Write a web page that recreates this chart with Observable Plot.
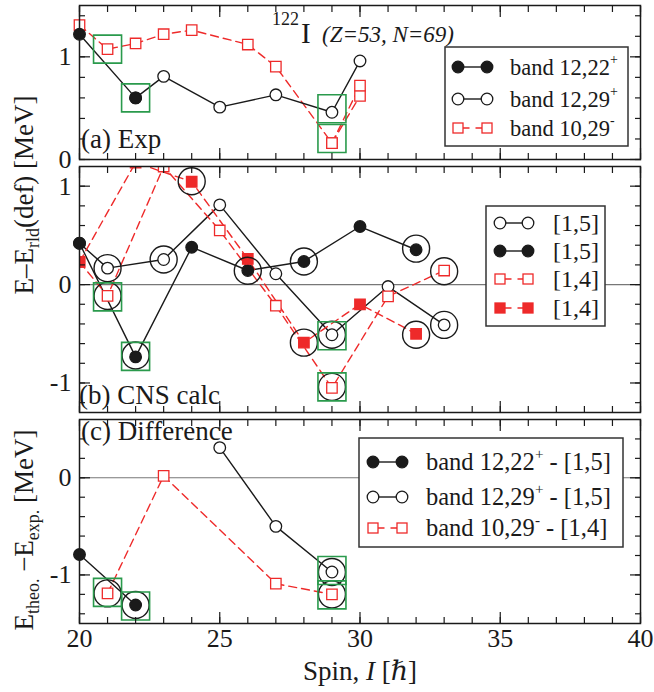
<!DOCTYPE html>
<html>
<head>
<meta charset="utf-8">
<script src="https://cdn.jsdelivr.net/npm/d3@7"></script>
<script src="https://cdn.jsdelivr.net/npm/@observablehq/plot@0.6"></script>
<style>
  html, body { margin: 0; padding: 0; background: #fff; }
  #wrap { position: relative; width: 654px; height: 692px; overflow: hidden; background: #fff; }
  #wrap svg { position: absolute; left: 0; overflow: visible; }
</style>
</head>
<body>
<div id="wrap"></div>
<script>
// ---------------- data ----------------
const xMinorTicks = d3.range(20, 41);
const xMajorTicks = [20, 25, 30, 35, 40];
const xTickLabels = [20, 25, 30, 35, 40];

// (a) Exp
const a_b1222_I = [20, 22];
const a_b1222_E = [1.22, 0.60];
const a_b1229_I = [22, 23, 25, 27, 29, 30];
const a_b1229_E = [0.60, 0.81, 0.51, 0.63, 0.46, 0.96];
const a_b1029_I = [20, 21, 22, 23, 24, 26, 27, 29, 30];
const a_b1029_E = [1.31, 1.075, 1.13, 1.22, 1.26, 1.12, 0.905, 0.16, 0.62];
const a_b1029b_I = [29, 30];
const a_b1029b_E = [0.16, 0.72];
const a_box_I = [21, 22, 29, 29];
const a_box_E = [1.075, 0.60, 0.495, 0.205];
const a_yLabels = [0, 1];

// (b) CNS calc
const b_o15_I = [20, 21, 23, 25, 27, 29, 31, 33];
const b_o15_E = [0.42, 0.167, 0.255, 0.81, 0.11, -0.51, -0.02, -0.41];
const b_f15_I = [20, 22, 24, 26, 28, 30, 32];
const b_f15_E = [0.42, -0.735, 0.38, 0.143, 0.235, 0.59, 0.354];
const b_o14_I = [20, 21, 23, 25, 27, 29, 31, 33];
const b_o14_E = [0.23, -0.115, 1.2, 0.55, -0.215, -1.05, -0.12, 0.143];
const b_f14_I = [20, 22, 24, 26, 28, 30, 32];
const b_f14_E = [0.23, 1.24, 1.045, 0.26, -0.59, -0.2, -0.5];
const b_ring_I = [21, 21, 22, 23, 24, 26, 28, 28, 29, 29, 32, 32, 33, 33];
const b_ring_E = [0.167, -0.115, -0.72, 0.255, 1.05, 0.14, 0.235, -0.59, -0.51, -1.04, 0.365, -0.51, 0.136, -0.41];
const b_box_I = [21, 22, 29, 29];
const b_box_E = [-0.125, -0.73, -0.52, -1.04];
const b_yLabels = [-1, 0, 1];

// (c) Difference
const c_f_I = [20, 22];
const c_f_E = [-0.79, -1.31];
const c_o_I = [25, 27, 29];
const c_o_E = [0.31, -0.50, -0.97];
const c_r_I = [21, 23, 27, 29];
const c_r_E = [-1.19, 0.02, -1.09, -1.20];
const c_ring_I = [21, 22, 29, 29];
const c_ring_E = [-1.19, -1.31, -0.97, -1.20];
const c_box_I = [21, 22, 29, 29];
const c_box_E = [-1.18, -1.32, -0.955, -1.205];
const c_yLabels = [-1, 0];

// ---------------- styling ----------------
const RED = "#ee2a2a";
const GREEN = "#2a9a4c";
const INK = "#1a1a1a";
const FONT = "'Liberation Serif', 'DejaVu Serif', serif";
const pts = (I, E) => I.map((x, i) => ({I: x, E: E[i]}));

function frameAxes(yMinor, yMajor, yLabels, showX) {
  const common = {label: null, tickFormat: () => "", stroke: INK, strokeWidth: 1.2};
  const m = [
    Plot.axisX({...common, anchor: "bottom", ticks: xMinorTicks, tickSize: -6}),
    Plot.axisX({...common, anchor: "bottom", ticks: xMajorTicks, tickSize: -11}),
    Plot.axisX({...common, anchor: "top", ticks: xMinorTicks, tickSize: -6}),
    Plot.axisX({...common, anchor: "top", ticks: xMajorTicks, tickSize: -11}),
    Plot.axisY({...common, anchor: "left", ticks: yMinor, tickSize: -6}),
    Plot.axisY({...common, anchor: "left", ticks: yMajor, tickSize: -11}),
    Plot.axisY({...common, anchor: "right", ticks: yMinor, tickSize: -6}),
    Plot.axisY({...common, anchor: "right", ticks: yMajor, tickSize: -11}),
    Plot.axisY({anchor: "left", ticks: yLabels, tickSize: 0, tickPadding: 8, tickFormat: d => String(d), label: null, fontSize: 26, fill: INK})
  ];
  if (showX) m.push(Plot.axisX({anchor: "bottom", ticks: xTickLabels, tickSize: 0, tickPadding: 5, tickFormat: d => String(d), label: null, fontSize: 26, fill: INK}));
  m.push(Plot.frame({stroke: INK, strokeWidth: 1.5}));
  return m;
}

const lineBlack = (d, o = {}) => Plot.line(d, {x: "I", y: "E", stroke: INK, strokeWidth: 1.4, ...o});
const lineRed = (d, o = {}) => Plot.line(d, {x: "I", y: "E", stroke: RED, strokeWidth: 1.4, strokeDasharray: "8,5", ...o});
const dotOC = (d, o = {}) => Plot.dot(d, {x: "I", y: "E", r: 5.8, fill: "white", stroke: INK, strokeWidth: 1.3, ...o});
const dotFC = (d, o = {}) => Plot.dot(d, {x: "I", y: "E", r: 5.8, fill: INK, stroke: INK, strokeWidth: 1.3, ...o});
const dotOS = (d, o = {}) => Plot.dot(d, {x: "I", y: "E", symbol: "square", r: 5.9, fill: "white", stroke: RED, strokeWidth: 1.3, ...o});
const dotFS = (d, o = {}) => Plot.dot(d, {x: "I", y: "E", symbol: "square", r: 5.9, fill: RED, stroke: RED, strokeWidth: 1.3, ...o});
const rings = (d) => Plot.dot(d, {x: "I", y: "E", r: 13.5, fill: "none", stroke: INK, strokeWidth: 1.4});
const boxes = (d) => Plot.dot(d, {x: "I", y: "E", symbol: "square", r: 15.8, fill: "none", stroke: GREEN, strokeWidth: 1.6});

function panel(opts, marks) {
  return Plot.plot({
    width: 654, height: opts.height,
    marginLeft: 79, marginRight: 14, marginTop: opts.mt, marginBottom: opts.mb,
    x: {domain: [20, 40]},
    y: {domain: opts.yDomain},
    style: {fontFamily: FONT, fontSize: "26px", background: "transparent", overflow: "visible", color: INK},
    marks
  });
}

const wrap = document.getElementById("wrap");

// Panel (a)
const pa = panel({height: 162, mt: 5, mb: 3, yDomain: [0, 1.5]}, [
  lineRed(pts(a_b1029_I, a_b1029_E)),
  lineRed(pts(a_b1029b_I, a_b1029b_E)),
  lineBlack(pts(a_b1229_I, a_b1229_E)),
  lineBlack(pts(a_b1222_I, a_b1222_E)),
  dotOS(pts(a_b1029_I, a_b1029_E)),
  dotOS(pts(a_b1029b_I, a_b1029b_E)),
  dotOC(pts(a_b1229_I, a_b1229_E)),
  dotFC(pts(a_b1222_I, a_b1222_E)),
  boxes(pts(a_box_I, a_box_E)),
  ...frameAxes(d3.range(0, 8).map(i => i * 0.2), [0, 1], a_yLabels, false)
]);
pa.style.top = "0px";
wrap.appendChild(pa);

// Panel (b)
const pb = panel({height: 252, mt: 4, mb: 2, yDomain: [-1.3, 1.2]}, [
  Plot.ruleY([0], {stroke: "#777", strokeWidth: 1.1}),
  lineBlack(pts(b_o15_I, b_o15_E)),
  lineBlack(pts(b_f15_I, b_f15_E)),
  lineRed(pts(b_o14_I, b_o14_E), {clip: true}),
  lineRed(pts(b_f14_I, b_f14_E), {clip: true}),
  dotOC(pts(b_o15_I, b_o15_E)),
  dotFC(pts(b_f15_I, b_f15_E)),
  dotOS(pts(b_o14_I, b_o14_E), {clip: true}),
  dotFS(pts(b_f14_I, b_f14_E), {clip: true}),
  rings(pts(b_ring_I, b_ring_E)),
  boxes(pts(b_box_I, b_box_E)),
  ...frameAxes(d3.range(-6, 6).map(i => i * 0.2), [-1, 0, 1], b_yLabels, false)
]);
pb.style.top = "162px";
wrap.appendChild(pb);

// Panel (c)
const pc = panel({height: 278, mt: 5, mb: 69, yDomain: [-1.5, 0.6]}, [
  Plot.ruleY([0], {stroke: "#777", strokeWidth: 1.1}),
  lineRed(pts(c_r_I, c_r_E)),
  lineBlack(pts(c_o_I, c_o_E)),
  lineBlack(pts(c_f_I, c_f_E)),
  dotOS(pts(c_r_I, c_r_E)),
  dotOC(pts(c_o_I, c_o_E)),
  dotFC(pts(c_f_I, c_f_E)),
  rings(pts(c_ring_I, c_ring_E)),
  boxes(pts(c_box_I, c_box_E)),
  ...frameAxes(d3.range(-7, 3).map(i => i * 0.2), [-1, 0], c_yLabels, true)
]);
pc.style.top = "414px";
wrap.appendChild(pc);

// ---------------- overlay: texts & legends ----------------
const ov = d3.select(wrap).append("svg")
  .attr("width", 654).attr("height", 692)
  .style("top", "0px").style("pointer-events", "none")
  .style("font-family", FONT).attr("fill", INK);

// title
const t = ov.append("text").attr("y", 43);
t.append("tspan").attr("x", 272).attr("y", 25).attr("font-size", 18).text("122");
t.append("tspan").attr("x", 301).attr("y", 43).attr("font-size", 29).text("I");
t.append("tspan").attr("x", 322).attr("y", 42).attr("font-size", 23).attr("font-style", "italic").text("(Z=53, N=69)");

// panel labels
ov.append("text").attr("x", 81).attr("y", 148).attr("font-size", 27).text("(a) Exp");
ov.append("text").attr("x", 79).attr("y", 404).attr("font-size", 27).text("(b) CNS calc");
ov.append("text").attr("x", 81).attr("y", 440).attr("font-size", 27).text("(c) Difference");

// y labels
const y1 = ov.append("text").attr("transform", "translate(33,195) rotate(-90)").attr("text-anchor", "middle").attr("font-size", 27);
y1.append("tspan").text("E\u2013E");
y1.append("tspan").attr("font-size", 18).attr("dy", 6).text("rld");
y1.append("tspan").attr("dy", -6).text("(def) [MeV]");

const y2 = ov.append("text").attr("transform", "translate(33,530) rotate(-90)").attr("text-anchor", "middle").attr("font-size", 27);
y2.append("tspan").text("E");
y2.append("tspan").attr("font-size", 18).attr("dy", 6).text("theo.");
y2.append("tspan").attr("dy", -6).text(" \u2212E");
y2.append("tspan").attr("font-size", 18).attr("dy", 6).text("exp.");
y2.append("tspan").attr("dy", -6).text(" [MeV]");

// x label
const xl = ov.append("text").attr("x", 360).attr("y", 680).attr("text-anchor", "middle").attr("font-size", 27);
xl.append("tspan").text("Spin, ");
xl.append("tspan").attr("font-style", "italic").text("I");
xl.append("tspan").text(" [\u210F]");

// legend helpers
function icon(g, type, x1, x2, cy) {
  const red = type === "os" || type === "fs";
  if (red) {
    g.append("line").attr("x1", x1 + 5).attr("x2", x2 - 5).attr("y1", cy).attr("y2", cy)
      .attr("stroke", RED).attr("stroke-width", 1.4).attr("stroke-dasharray", "6.5,6");
    for (const x of [x1, x2]) g.append("rect").attr("x", x - 5).attr("y", cy - 5).attr("width", 10).attr("height", 10)
      .attr("fill", type === "fs" ? RED : "white").attr("stroke", RED).attr("stroke-width", 1.3);
  } else {
    g.append("line").attr("x1", x1).attr("x2", x2).attr("y1", cy).attr("y2", cy)
      .attr("stroke", INK).attr("stroke-width", 1.4);
    for (const x of [x1, x2]) g.append("circle").attr("cx", x).attr("cy", cy).attr("r", 5.8)
      .attr("fill", type === "fc" ? INK : "white").attr("stroke", INK).attr("stroke-width", 1.3);
  }
}
function legend(box, mx1, mx2, tx, fs, rows) {
  const g = ov.append("g");
  g.append("rect").attr("x", box[0]).attr("y", box[1]).attr("width", box[2] - box[0]).attr("height", box[3] - box[1])
    .attr("fill", "white").attr("stroke", "#333").attr("stroke-width", 1.5);
  for (const r of rows) {
    icon(g, r.type, mx1, mx2, r.cy);
    const tx_ = g.append("text").attr("x", tx).attr("y", r.cy + 8).attr("font-size", fs);
    tx_.append("tspan").text(r.text);
    if (r.sup) {
      tx_.append("tspan").attr("font-size", fs * 0.62).attr("dy", -11).text(r.sup);
      tx_.append("tspan").attr("dy", 11).text(r.after || "");
    }
  }
}

legend([445, 47, 628, 146], 458, 487, 510, 22.5, [
  {type: "fc", cy: 67, text: "band 12,22", sup: "+"},
  {type: "oc", cy: 99, text: "band 12,29", sup: "+"},
  {type: "os", cy: 128, text: "band 10,29", sup: "-"}
]);
legend([486, 206, 605, 326], 500, 528, 553, 24, [
  {type: "oc", cy: 223, text: "[1,5]"},
  {type: "fc", cy: 251, text: "[1,5]"},
  {type: "os", cy: 279, text: "[1,4]"},
  {type: "fs", cy: 308, text: "[1,4]"}
]);
legend([359, 438, 623, 547], 373, 402, 426, 24.5, [
  {type: "fc", cy: 462, text: "band 12,22", sup: "+", after: " - [1,5]"},
  {type: "oc", cy: 497, text: "band 12,29", sup: "+", after: " - [1,5]"},
  {type: "os", cy: 528, text: "band 10,29", sup: "-", after: " - [1,4]"}
]);
</script>
</body>
</html>
